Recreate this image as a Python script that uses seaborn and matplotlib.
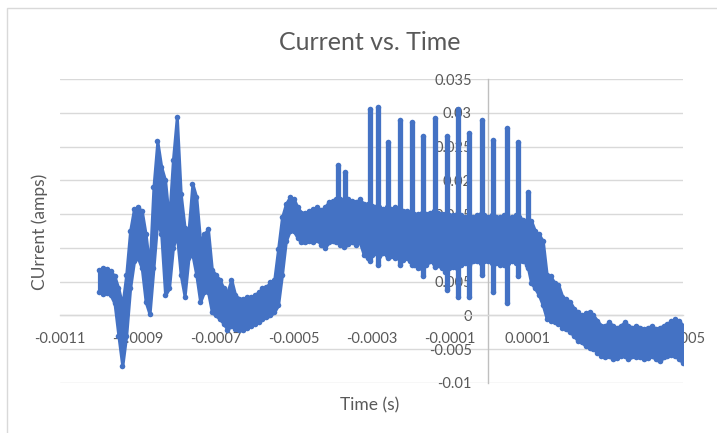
import numpy as np
import pandas as pd
import matplotlib
matplotlib.use("Agg")
import matplotlib.pyplot as plt
from matplotlib.patches import Rectangle
import seaborn as sns

# ---- data (time in s, current in A) ----
band_t = [-0.00100, -0.00099, -0.00098, -0.00097, -0.00096, -0.00095, -0.00094, -0.00093, -0.00092, -0.00091,
          -0.00090, -0.00089, -0.00088, -0.00087, -0.00086, -0.00085, -0.00084, -0.00083, -0.00082, -0.00081,
          -0.00080, -0.00079, -0.00078, -0.00077, -0.00076, -0.00075, -0.00074, -0.00073, -0.00072, -0.00071,
          -0.00070, -0.00069, -0.00068, -0.00067, -0.00066, -0.00065, -0.00064, -0.00063, -0.00062, -0.00061,
          -0.00060, -0.00059, -0.00058, -0.00057, -0.00056, -0.00055, -0.00054, -0.00053, -0.00052, -0.00051,
          -0.00050, -0.00049, -0.00048, -0.00047, -0.00046, -0.00045, -0.00044, -0.00043, -0.00042, -0.00041,
          -0.00040, -0.00039, -0.00038, -0.00037, -0.00036, -0.00035, -0.00034, -0.00033, -0.00032, -0.00031,
          -0.00030, -0.00029, -0.00028, -0.00027, -0.00026, -0.00025, -0.00024, -0.00023, -0.00022, -0.00021,
          -0.00020, -0.00019, -0.00018, -0.00017, -0.00016, -0.00015, -0.00014, -0.00013, -0.00012, -0.00011,
          -0.00010, -0.00009, -0.00008, -0.00007, -0.00006, -0.00005, -0.00004, -0.00003, -0.00002, -0.00001,
          0.00000, 0.00001, 0.00002, 0.00003, 0.00004, 0.00005, 0.00006, 0.00007, 0.00008, 0.00009,
          0.00010, 0.00011, 0.00012, 0.00013, 0.00014, 0.00015, 0.00016, 0.00017, 0.00018, 0.00019,
          0.00020, 0.00021, 0.00022, 0.00023, 0.00024, 0.00025, 0.00026, 0.00027, 0.00028, 0.00029,
          0.00030, 0.00031, 0.00032, 0.00033, 0.00034, 0.00035, 0.00036, 0.00037, 0.00038, 0.00039,
          0.00040, 0.00041, 0.00042, 0.00043, 0.00044, 0.00045, 0.00046, 0.00047, 0.00048, 0.00049,
          0.00050]

band_hi = [0.0068, 0.0070, 0.0069, 0.0066, 0.0058, 0.0040, 0.0015, 0.0060, 0.0125, 0.0158,
           0.0160, 0.0155, 0.0120, 0.0070, 0.0190, 0.0258, 0.0220, 0.0200, 0.0140, 0.0230,
           0.0294, 0.0180, 0.0130, 0.0125, 0.0195, 0.0175, 0.0110, 0.0120, 0.0128, 0.0068,
           0.0060, 0.0053, 0.0040, 0.0035, 0.0053, 0.0030, 0.0025, 0.0024, 0.0028, 0.0027,
           0.0030, 0.0035, 0.0040, 0.0042, 0.0050, 0.0052, 0.0098, 0.0145, 0.0165, 0.0175,
           0.0173, 0.0160, 0.0152, 0.0152, 0.0155, 0.0158, 0.0160, 0.0156, 0.0160, 0.0168,
           0.0170, 0.0172, 0.0172, 0.0170, 0.0172, 0.0170, 0.0168, 0.0172, 0.0165, 0.0165,
           0.0162, 0.0160, 0.0160, 0.0158, 0.0160, 0.0158, 0.0160, 0.0158, 0.0155, 0.0155,
           0.0152, 0.0150, 0.0150, 0.0152, 0.0150, 0.0152, 0.0155, 0.0152, 0.0150, 0.0150,
           0.0148, 0.0148, 0.0150, 0.0148, 0.0145, 0.0148, 0.0145, 0.0148, 0.0150, 0.0148,
           0.0146, 0.0148, 0.0145, 0.0145, 0.0148, 0.0146, 0.0145, 0.0148, 0.0145, 0.0142,
           0.0140, 0.0140, 0.0125, 0.0120, 0.0110, 0.0060, 0.0058, 0.0048, 0.0045, 0.0028,
           0.0024, 0.0020, 0.0010, 0.0005, 0.0000, 0.0003, 0.0005, 0.0000, -0.0008, -0.0015,
           -0.0015, -0.0010, -0.0015, -0.0018, -0.0015, -0.0010, -0.0015, -0.0018, -0.0015, -0.0018,
           -0.0020, -0.0018, -0.0015, -0.0020, -0.0018, -0.0015, -0.0012, -0.0008, -0.0005, -0.0008,
           -0.0015]

band_lo = [0.0035, 0.0032, 0.0033, 0.0030, 0.0018, -0.0030, -0.0075, -0.0030, 0.0040, 0.0080,
           0.0085, 0.0070, 0.0020, 0.0002, 0.0070, 0.0140, 0.0120, 0.0030, 0.0040, 0.0100,
           0.0120, 0.0060, 0.0028, 0.0085, 0.0090, 0.0060, 0.0020, 0.0035, 0.0035, 0.0005,
           0.0000, -0.0005, -0.0012, -0.0021, -0.0015, -0.0020, -0.0021, -0.0022, -0.0018, -0.0015,
           -0.0012, -0.0010, -0.0005, -0.0003, 0.0000, 0.0005, 0.0015, 0.0060, 0.0110, 0.0125,
           0.0125, 0.0115, 0.0108, 0.0108, 0.0110, 0.0108, 0.0112, 0.0105, 0.0100, 0.0108,
           0.0110, 0.0108, 0.0105, 0.0102, 0.0106, 0.0108, 0.0105, 0.0108, 0.0090, 0.0085,
           0.0090, 0.0092, 0.0088, 0.0092, 0.0090, 0.0088, 0.0085, 0.0085, 0.0082, 0.0085,
           0.0080, 0.0075, 0.0070, 0.0070, 0.0075, 0.0080, 0.0078, 0.0075, 0.0070, 0.0065,
           0.0070, 0.0072, 0.0070, 0.0075, 0.0078, 0.0075, 0.0080, 0.0080, 0.0078, 0.0080,
           0.0080, 0.0078, 0.0078, 0.0075, 0.0075, 0.0078, 0.0080, 0.0078, 0.0080, 0.0080,
           0.0075, 0.0048, 0.0040, 0.0030, 0.0015, -0.0005, -0.0008, -0.0010, -0.0012, -0.0018,
           -0.0020, -0.0025, -0.0030, -0.0038, -0.0040, -0.0045, -0.0048, -0.0050, -0.0055, -0.0060,
           -0.0062, -0.0060, -0.0065, -0.0063, -0.0060, -0.0060, -0.0065, -0.0060, -0.0062, -0.0062,
           -0.0065, -0.0063, -0.0060, -0.0065, -0.0068, -0.0062, -0.0060, -0.0058, -0.0060, -0.0065,
           -0.0070]

spike_t = [-0.000386, -0.000368, -0.000304, -0.000283, -0.000257, -0.000227, -0.000196, -0.000167,
           -0.000136, -0.000106, -0.000077, -0.000049, -0.000015, 0.000013, 0.000049, 0.000075, 0.000103]
spike_top = [0.0223, 0.0212, 0.0305, 0.0309, 0.0257, 0.0290, 0.0287, 0.0265,
             0.0293, 0.0266, 0.0305, 0.0270, 0.0290, 0.0260, 0.0278, 0.0257, 0.0183]
spike_bottom = [0.0110, 0.0105, 0.0080, 0.0075, 0.0085, 0.0075, 0.0075, 0.0058,
                0.0072, 0.0038, 0.0028, 0.0028, 0.0060, 0.0034, 0.0019, 0.0058, 0.0070]

x_ticks = [-0.0011, -0.0009, -0.0007, -0.0005, -0.0003, -0.0001, 0.0001, 0.0003, 0.0005]
x_tick_labels = ["-0.0011", "-0.0009", "-0.0007", "-0.0005", "-0.0003", "-0.0001", "0.0001", "0.0003", "0.0005"]
y_ticks = [-0.01, -0.005, 0, 0.005, 0.01, 0.015, 0.02, 0.025, 0.03, 0.035]
y_tick_labels = ["-0.01", "-0.005", "0", "0.005", "0.01", "0.015", "0.02", "0.025", "0.03", "0.035"]

title = "Current vs. Time"
x_label = "Time (s)"
y_label = "CUrrent (amps)"

# ---- styling ----
sns.set_style("white")
plt.rcParams['font.family'] = ['Lato', 'DejaVu Sans']
BLUE = "#4472C4"
GRAY_TXT = "#595959"
GRID = "#D9D9D9"

fig = plt.figure(figsize=(7.17, 4.33), dpi=100)
fig.patch.set_facecolor("white")
fig.patches.append(Rectangle((7 / 717, -0.1), 1.2, (433 - 8) / 433 + 0.1, transform=fig.transFigure,
                             fill=False, edgecolor=GRID, linewidth=1.0))
ax = fig.add_axes([60 / 717, (433 - 383) / 433, 623 / 717, 304 / 433])

band = pd.DataFrame({"t": band_t, "lo": band_lo, "hi": band_hi})
spikes = pd.DataFrame({"t": spike_t, "top": spike_top, "bottom": spike_bottom})

ax.fill_between(band["t"], band["lo"], band["hi"], color=BLUE, linewidth=2.2, edgecolor=BLUE, zorder=3)
ax.vlines(spikes["t"], spikes["bottom"], spikes["top"], color=BLUE, linewidth=3.8, zorder=3)

pts = pd.concat([
    pd.DataFrame({"t": band["t"], "v": band["hi"]}),
    pd.DataFrame({"t": band["t"], "v": band["lo"]}),
    pd.DataFrame({"t": spikes["t"], "v": spikes["top"]}),
    pd.DataFrame({"t": spikes["t"], "v": spikes["bottom"]}),
], ignore_index=True)
sns.scatterplot(data=pts, x="t", y="v", ax=ax, color=BLUE, s=16, linewidth=0, zorder=4, legend=False)

ax.set_xlim(-0.0011, 0.0005)
ax.set_ylim(-0.01, 0.035)

ax.set_yticks(y_ticks)
ax.set_yticklabels(y_tick_labels)
ax.set_xticks(x_ticks)
ax.set_xticklabels(x_tick_labels)

for s in ["top", "right"]:
    ax.spines[s].set_visible(False)
ax.spines["left"].set_position(("data", 0))
ax.spines["bottom"].set_position(("data", 0))
ax.spines["left"].set_color("#BFBFBF")
ax.spines["bottom"].set_color(GRID)
ax.spines["left"].set_linewidth(1.0)
ax.spines["bottom"].set_linewidth(1.0)
ax.spines["left"].set_zorder(1)
ax.spines["bottom"].set_zorder(1)

ax.yaxis.grid(True, color=GRID, linewidth=1.0)
ax.xaxis.grid(False)
ax.set_axisbelow(True)

ax.tick_params(axis="both", length=0, labelsize=10.5, labelcolor=GRAY_TXT)
ax.tick_params(axis="y", pad=12)
ax.tick_params(axis="x", pad=12)

ax.set_xlabel("")
ax.set_ylabel("")
fig.text(370 / 717, 1 - 405 / 433, x_label, ha="center", va="center", fontsize=12.5, color=GRAY_TXT)
fig.text(40 / 717, 1 - 232 / 433, y_label, ha="center", va="center", rotation=90, fontsize=12.5, color=GRAY_TXT)
fig.text(370 / 717, 1 - 42 / 433, title, ha="center", va="center", fontsize=18, color=GRAY_TXT)

fig.savefig("out.png", dpi=100, facecolor="white")
